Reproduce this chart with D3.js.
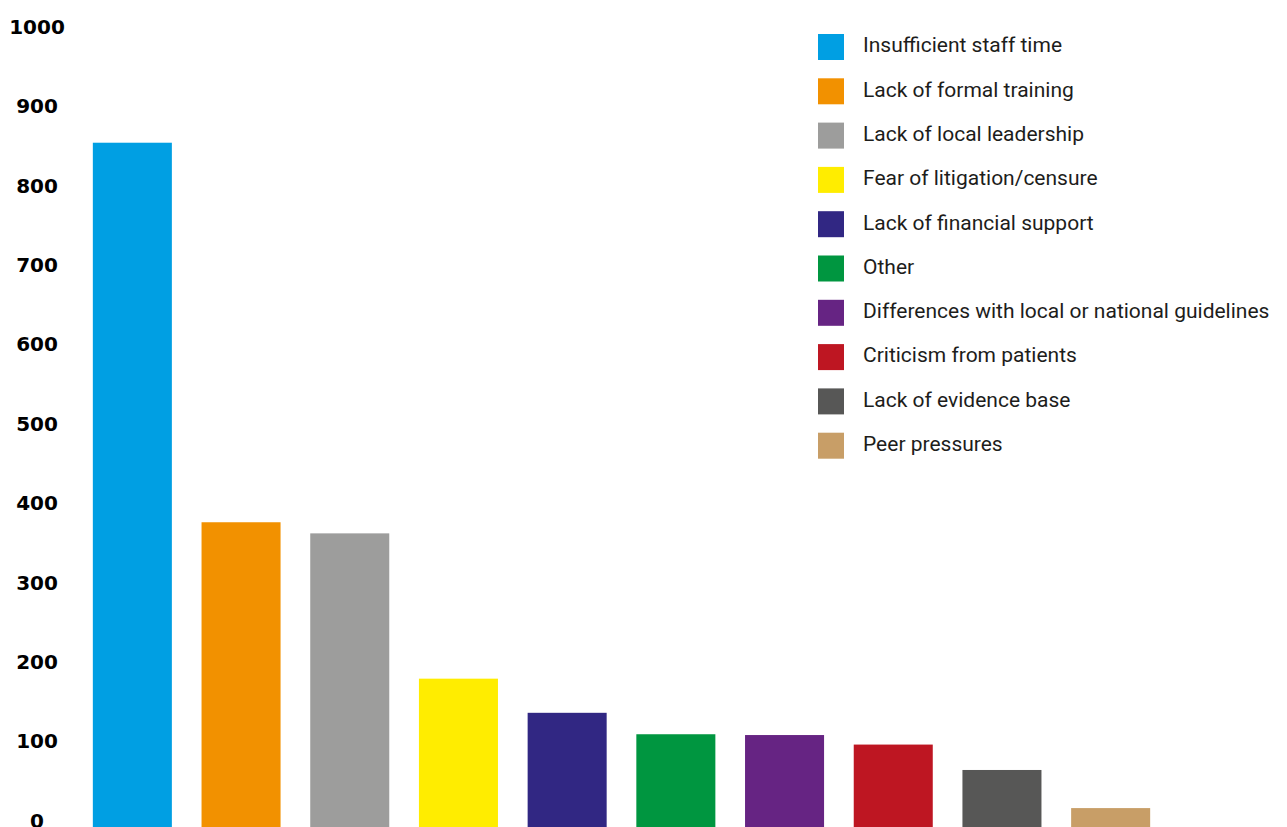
<!DOCTYPE html>
<html>
<head>
<meta charset="utf-8">
<script src="https://cdn.jsdelivr.net/npm/d3@7"></script>
<style>
  body { margin: 0; background: #fff; }
  .axis text { font-family: "DejaVu Sans", sans-serif; font-weight: bold; font-size: 20px; fill: #000; }
  .legend text { font-family: Roboto, sans-serif; font-size: 21px; fill: #1d1d1b; }
</style>
</head>
<body>
<svg></svg>
<script>
var categories = ["Insufficient staff time", "Lack of formal training", "Lack of local leadership",
                  "Fear of litigation/censure", "Lack of financial support", "Other",
                  "Differences with local or national guidelines", "Criticism from patients",
                  "Lack of evidence base", "Peer pressures"];
var values = [853, 375, 361, 178, 135, 108, 107, 95, 63, 15];
var colors = ["#009fe3", "#f29100", "#9d9d9c", "#ffed00", "#312783", "#009640",
              "#662483", "#be1622", "#575756", "#c89e67"];
var yTicks = [0, 100, 200, 300, 400, 500, 600, 700, 800, 900, 1000];

var width = 1287, height = 827;

var svg = d3.select("svg")
    .attr("width", width)
    .attr("height", height);

var x = d3.scaleBand()
    .domain(categories)
    .range([78, 1165])
    .paddingInner(0.273)
    .paddingOuter(0.1365);

var y = d3.scaleLinear()
    .domain([0, 1000])
    .range([820, 26]);

var color = d3.scaleOrdinal().domain(categories).range(colors);

// Y labels (no axis line, centred)
var yAxis = svg.append("g")
    .attr("class", "axis")
    .attr("transform", "translate(37,0)")
    .call(d3.axisLeft(y).tickValues(yTicks).tickFormat(d3.format("d")).tickSize(0).tickPadding(0));
yAxis.select(".domain").remove();
yAxis.selectAll("text")
    .attr("text-anchor", "middle")
    .attr("dy", "0.36em");

// Bars
svg.selectAll(".bar")
    .data(values)
    .enter().append("rect")
    .attr("class", "bar")
    .attr("x", function(d, i) { return x(categories[i]); })
    .attr("y", function(d) { return y(d); })
    .attr("width", x.bandwidth())
    .attr("height", function(d) { return height - y(d); })
    .style("fill", function(d, i) { return colors[i]; });

// Legend
var legend = svg.selectAll(".legend")
    .data(categories)
    .enter().append("g")
    .attr("class", "legend")
    .attr("transform", function(d, i) { return "translate(818," + (34 + i * 44.3) + ")"; });

legend.append("rect")
    .attr("width", 26)
    .attr("height", 26)
    .style("fill", color);

legend.append("text")
    .attr("x", 45)
    .attr("y", 11)
    .attr("dy", ".35em")
    .text(function(d) { return d; });
</script>
</body>
</html>
